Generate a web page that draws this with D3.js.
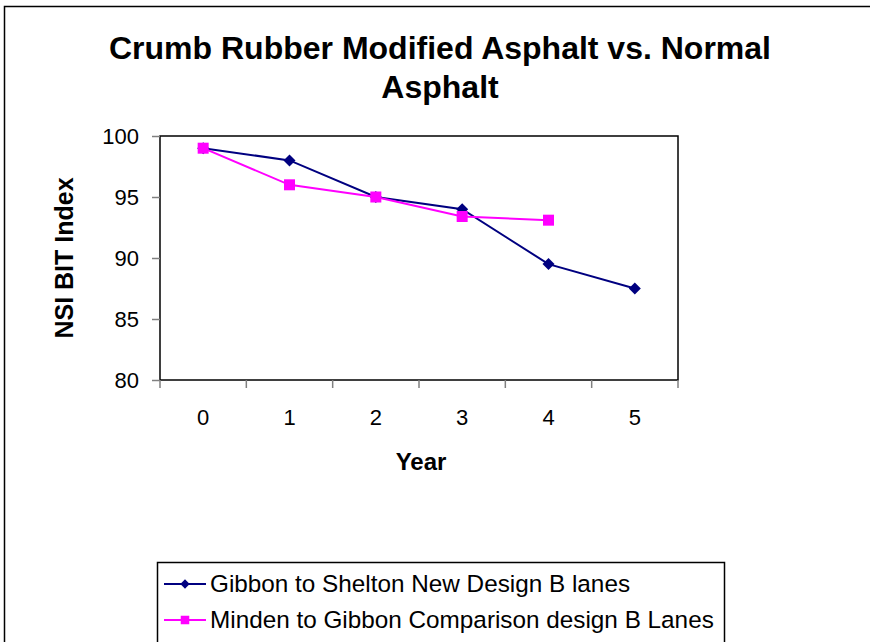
<!DOCTYPE html>
<html>
<head>
<meta charset="utf-8">
<script src="https://cdn.jsdelivr.net/npm/d3@7"></script>
<style>
  body { margin: 0; background: #fff; }
  svg { display: block; font-family: "Liberation Sans", Arial, sans-serif; }
</style>
</head>
<body>
<div id="chart"></div>
<script>
var years = ["0", "1", "2", "3", "4", "5"];
var gibbonValues = [99, 98, 95, 94, 89.5, 87.5];
var mindenValues = [99, 96, 95, 93.4, 93.1];
var seriesNames = ["Gibbon to Shelton New Design B lanes", "Minden to Gibbon Comparison design B Lanes"];
var yTicks = [80, 85, 90, 95, 100];
var titleLines = ["Crumb Rubber Modified Asphalt vs. Normal", "Asphalt"];

var width = 870, height = 642;
var plot = {left: 160, right: 678, top: 136, bottom: 380};

var svg = d3.select("#chart").append("svg")
    .attr("width", width)
    .attr("height", height);

// outer chart border (runs off the picture right and bottom)
svg.append("rect")
    .attr("x", 4.5).attr("y", 6.5)
    .attr("width", 900).attr("height", 700)
    .attr("fill", "#fff")
    .attr("stroke", "#000")
    .attr("stroke-width", 1.5);

var x = d3.scaleBand()
    .domain(years)
    .range([plot.left, plot.right]);

var y = d3.scaleLinear()
    .domain([80, 100])
    .range([plot.bottom, plot.top]);

// title
svg.append("text")
    .attr("x", 440)
    .attr("y", 59)
    .attr("text-anchor", "middle")
    .style("font-weight", "bold")
    .style("font-size", "32px")
    .selectAll("tspan")
    .data(titleLines)
    .enter().append("tspan")
    .attr("x", 440)
    .attr("dy", function(d, i) { return i ? 39 : 0; })
    .text(function(d) { return d; });

// plot box
svg.append("rect")
    .attr("x", plot.left).attr("y", plot.top)
    .attr("width", plot.right - plot.left)
    .attr("height", plot.bottom - plot.top)
    .attr("fill", "#fff")
    .attr("stroke", "#000")
    .attr("stroke-width", 1.5);

// x axis: ticks at band edges
var xAxis = svg.append("g")
    .attr("transform", "translate(0," + plot.bottom + ")");
xAxis.selectAll("line.tick")
    .data(years.concat(["end"]))
    .enter().append("line")
    .attr("class", "tick")
    .attr("x1", function(d, i) { return plot.left + i * x.bandwidth(); })
    .attr("x2", function(d, i) { return plot.left + i * x.bandwidth(); })
    .attr("y1", 0).attr("y2", 8)
    .attr("stroke", "#808080")
    .attr("stroke-width", 1.5);
xAxis.selectAll("text")
    .data(years)
    .enter().append("text")
    .attr("x", function(d) { return x(d) + x.bandwidth() / 2; })
    .attr("y", 45)
    .attr("text-anchor", "middle")
    .style("font-size", "22px")
    .text(function(d) { return d; });

// y axis
var yAxis = svg.append("g")
    .attr("transform", "translate(" + plot.left + ",0)")
    .call(d3.axisLeft(y).tickValues(yTicks).tickSize(8).tickPadding(13));
yAxis.select(".domain").remove();
yAxis.selectAll(".tick line").attr("stroke", "#808080").attr("stroke-width", 1.5);
yAxis.selectAll(".tick text")
    .style("font-size", "22px")
    .style("font-family", "'Liberation Sans', Arial, sans-serif")
    .attr("fill", "#000");

// axis titles
svg.append("text")
    .attr("x", 421).attr("y", 470)
    .attr("text-anchor", "middle")
    .style("font-weight", "bold")
    .style("font-size", "24px")
    .text("Year");

svg.append("text")
    .attr("transform", "translate(73,258) rotate(-90)")
    .attr("text-anchor", "middle")
    .style("font-weight", "bold")
    .style("font-size", "25px")
    .text("NSI BIT Index");

var cx = function(d, i) { return x(years[i]) + x.bandwidth() / 2; };
var line = d3.line().x(cx).y(function(d) { return y(d); });

var series = [
  {name: seriesNames[0], values: gibbonValues, color: "#000080", symbol: d3.symbolSquare, size: 72, rot: 45},
  {name: seriesNames[1], values: mindenValues, color: "#FF00FF", symbol: d3.symbolSquare, size: 121, rot: 0}
];

series.forEach(function(s) {
  svg.append("path")
      .datum(s.values)
      .attr("d", line)
      .attr("fill", "none")
      .attr("stroke", s.color)
      .attr("stroke-width", 2);
  svg.selectAll(null)
      .data(s.values)
      .enter().append("path")
      .attr("transform", function(d, i) { return "translate(" + cx(d, i) + "," + y(d) + ") rotate(" + s.rot + ")"; })
      .attr("d", d3.symbol().type(s.symbol).size(s.size))
      .attr("fill", s.color);
});

// legend
var legend = svg.append("g");
legend.append("rect")
    .attr("x", 157.5).attr("y", 562.5)
    .attr("width", 567).attr("height", 100)
    .attr("fill", "#fff")
    .attr("stroke", "#000")
    .attr("stroke-width", 1.5);
var item = legend.selectAll("g.item")
    .data(series)
    .enter().append("g")
    .attr("class", "item")
    .attr("transform", function(d, i) { return "translate(0," + (584 + i * 36) + ")"; });
item.append("line")
    .attr("x1", 164).attr("x2", 206)
    .attr("stroke", function(d) { return d.color; })
    .attr("stroke-width", 2);
item.append("path")
    .attr("transform", function(d) { return "translate(185,0) rotate(" + d.rot + ")"; })
    .attr("d", function(d) { return d3.symbol().type(d.symbol).size(d.size * 0.6)(); })
    .attr("fill", function(d) { return d.color; });
item.append("text")
    .attr("x", 210)
    .attr("y", 8)
    .style("font-size", "24.3px")
    .text(function(d) { return d.name; });
</script>
</body>
</html>
